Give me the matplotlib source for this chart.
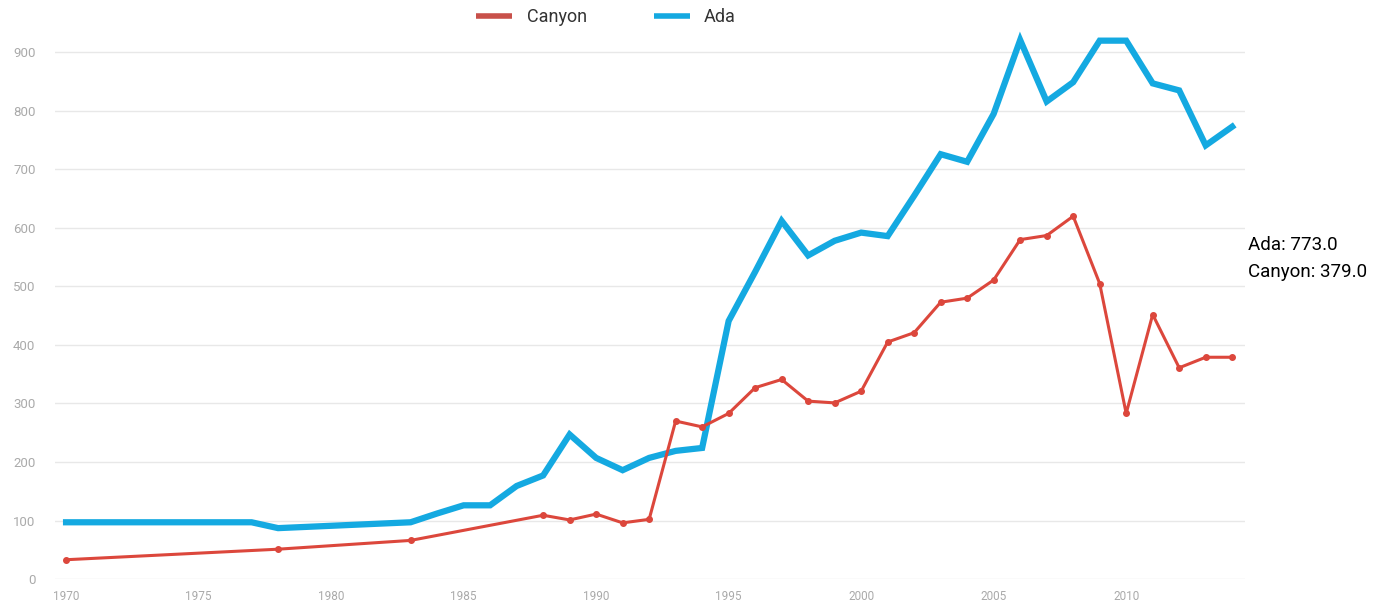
import matplotlib.pyplot as plt
from matplotlib.lines import Line2D

# Canyon has points only at these years
canyon_years = [1970, 1978, 1983, 1988, 1989, 1990, 1991, 1992, 1993, 1994,
                1995, 1996, 1997, 1998, 1999, 2000, 2001, 2002, 2003, 2004,
                2005, 2006, 2007, 2008, 2009, 2010, 2011, 2012, 2013, 2014]
canyon_vals = [33, 51, 66, 109, 101, 111, 96, 102, 270, 260,
               283, 327, 341, 304, 301, 321, 405, 421, 473, 480,
               511, 580, 587, 620, 505, 283, 452, 361, 379, 379]

ada_years = list(range(1970, 2015))
ada_vals = [97, 97, 97, 97, 97, 97, 97, 97, 87, 89,
            91, 93, 95, 97, 112, 126, 126, 159, 177, 247,
            207, 186, 207, 219, 224, 441, 525, 612, 553, 578,
            592, 586, 655, 726, 713, 795, 921, 816, 849, 920,
            920, 847, 835, 741, 773]

yticks = [0, 100, 200, 300, 400, 500, 600, 700, 800, 900]
xticks = [1970, 1975, 1980, 1985, 1990, 1995, 2000, 2005, 2010]

red = '#dc473c'
blue = '#14a9e1'

plt.rcParams['font.family'] = ['Roboto', 'DejaVu Sans']

fig = plt.figure(figsize=(13.84, 6.16), dpi=100)
ax = fig.add_axes([0.0397, 0.06, 0.86, 0.912])

ax.plot(canyon_years, canyon_vals, color=red, linewidth=2.2, marker='o',
        markersize=4, zorder=3)
ax.plot(ada_years, ada_vals, color=blue, linewidth=4.5,
        solid_joinstyle='miter', zorder=2)

ax.set_xlim(1969.58, 2014.49)
ax.set_ylim(0, 960)
ax.set_yticks(yticks)
ax.set_xticks(xticks)
ax.grid(axis='y', color='#e8e8e8', linewidth=1)
ax.set_axisbelow(True)
for s in ax.spines.values():
    s.set_visible(False)
ax.tick_params(axis='both', length=0, colors='#aaaaaa')
ax.tick_params(axis='y', labelsize=9.5, pad=14)
ax.tick_params(axis='x', labelsize=8.5, pad=8)

# legend: plain thick line handles, no markers
handles = [Line2D([], [], color='#c8504a', linewidth=4, solid_capstyle='butt'),
           Line2D([], [], color=blue, linewidth=4, solid_capstyle='butt')]
leg = ax.legend(handles, ['Canyon', 'Ada'], loc='upper center',
                bbox_to_anchor=(0.463, 1.045), ncol=2, frameon=False,
                fontsize=13, handlelength=2.0, columnspacing=3.7,
                handletextpad=0.8)
for t in leg.get_texts():
    t.set_color('#333333')

fig.text(0.902, 0.603, 'Ada: 773.0', fontsize=13.5, va='center', color='black')
fig.text(0.902, 0.559, 'Canyon: 379.0', fontsize=13.5, va='center', color='black')

fig.savefig('out.png', dpi=100)
